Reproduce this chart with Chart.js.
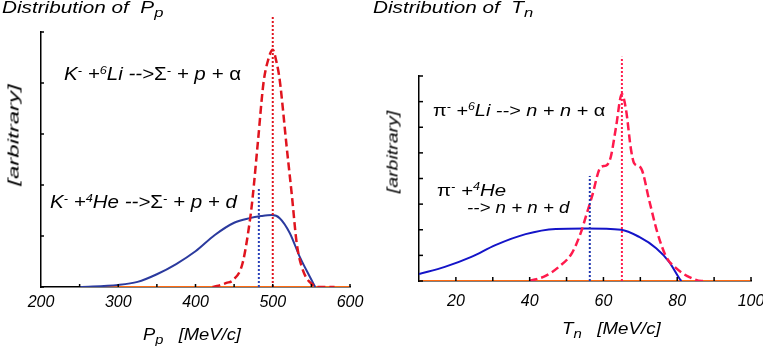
<!DOCTYPE html>
<html>
<head>
<meta charset="utf-8">
<script src="https://cdn.jsdelivr.net/npm/chart.js@4.4.1/dist/chart.umd.min.js"></script>
<style>
    body { margin: 0; background: #fff; }
    #wrap { position: relative; width: 763px; height: 346px; overflow: hidden; }
    .panel { position: absolute; top: 0; height: 346px; }
    .t { position: absolute; font-family: "Liberation Sans", Arial, sans-serif; font-style: italic; line-height: 1; white-space: nowrap; color: #000; transform-origin: left top; }
    .g { font-style: normal; }
    .t sup { font-size: 0.62em; vertical-align: 0.55em; }
    .t sub { font-size: 0.8em; vertical-align: -0.3em; }
    .rot { transform-origin: center center; }
</style>
</head>
<body>
<div id="wrap">
    <div class="panel" style="left:0;width:380px"><canvas id="pp-chart"></canvas></div>
    <div class="panel" style="left:380px;width:383px"><canvas id="tn-chart"></canvas></div>

    <span class="t" style="left:2px;top:-1px;font-size:17px;transform:scaleX(1.22)">Distribution of&nbsp; P<sub>p</sub></span>
    <span class="t" style="left:373px;top:-1px;font-size:17px;transform:scaleX(1.22)">Distribution of&nbsp; T<sub>n</sub></span>

    <span class="t" style="left:64px;top:65px;font-size:18px;transform:scaleX(1.14)">K<sup>-</sup> +<sup>6</sup>Li --&gt;<span class="g">Σ</span><sup>-</sup> + p + <span class="g">α</span></span>
    <span class="t" style="left:50px;top:193px;font-size:18px;transform:scaleX(1.14)">K<sup>-</sup> +<sup>4</sup>He --&gt;<span class="g">Σ</span><sup>-</sup> + p + d</span>

    <span class="t" style="left:433px;top:101px;font-size:17px;transform:scaleX(1.17)"><span class="g">π</span><sup>-</sup> +<sup>6</sup>Li --&gt; n + n + <span class="g">α</span></span>
    <span class="t" style="left:437px;top:181px;font-size:17px;transform:scaleX(1.2)"><span class="g">π</span><sup>-</sup> +<sup>4</sup>He</span>
    <span class="t" style="left:467px;top:199px;font-size:17px;transform:scaleX(1.1)">--&gt; n + n + d</span>

    <span class="t" style="left:143px;top:326px;font-size:17px;transform:scaleX(1.08)">P<sub>p</sub>&nbsp;&nbsp; [MeV/c]</span>
    <span class="t" style="left:562px;top:320px;font-size:17px;transform:scaleX(1.1)">T<sub>n</sub>&nbsp;&nbsp; [MeV/c]</span>

    <span class="t rot" style="left:13px;top:135px;font-size:15px;transform:translate(-50%,-50%) rotate(-90deg) scaleX(1.6)">[arbitrary]</span>
    <span class="t rot" style="left:392px;top:152px;font-size:15px;transform:translate(-50%,-50%) rotate(-90deg) scaleX(1.3)">[arbitrary]</span>
</div>

<script>
// ---- Distribution of P_p ----
const ppLabelTicks = [200, 300, 400, 500, 600];
const ppMarkTicks = [250, 300, 350, 400, 450, 500, 550, 600];
const ppYTicks = [0, 1, 2, 3, 4, 5];

// K- + 6Li (red dashed)
const ppLiX = [422, 428, 440, 449, 461, 471, 474, 481, 488, 494, 500, 505, 509, 518, 525, 531, 539, 552, 561, 580];
const ppLiY = [0, 0.02, 0.08, 0.14, 0.47, 1.37, 1.76, 2.88, 4.0, 4.45, 4.65, 4.4, 4.06, 2.75, 1.76, 0.86, 0.33, 0.04, 0, 0];

// K- + 4He (blue solid)
const ppHeX = [250, 300, 325, 350, 375, 400, 425, 450, 470, 485, 499, 509, 522, 535, 548, 555];
const ppHeY = [0, 0.04, 0.1, 0.25, 0.45, 0.7, 1.02, 1.26, 1.35, 1.39, 1.41, 1.35, 1.06, 0.59, 0.2, 0];

// mean markers (dotted)
const ppHeMarkX = [482, 482];
const ppHeMarkY = [0, 1.94];
const ppLiMarkX = [500, 500];
const ppLiMarkY = [0, 5.3];

const ppZeroX = [250, 600];
const ppZeroY = [0, 0];

// ---- Distribution of T_n ----
const tnLabelTicks = [20, 40, 60, 80, 100];
const tnMarkTicks = [20, 30, 40, 50, 60, 70, 80, 90, 100];
const tnYTicks = [0, 1, 2, 3, 4, 5, 6, 7, 8];

// pi- + 6Li (red dashed)
const tnLiX = [40, 44.3, 47.9, 51.5, 53.9, 55.2, 56.9, 59.3, 60.7, 62, 63.4, 65, 66.1, 67.5, 68.3, 70.2, 72.4, 74.6, 77, 79.7, 83.3, 86.6, 88];
const tnLiY = [0, 0.2, 0.55, 1.1, 1.9, 2.5, 3.3, 4.45, 4.5, 4.85, 6.0, 7.3, 6.7, 5.1, 4.6, 4.4, 3.15, 1.9, 0.95, 0.5, 0.15, 0, 0];

// pi- + 4He (blue solid)
const tnHeX = [10, 17, 24.2, 30.7, 38.9, 47.1, 55.2, 64.8, 69.7, 74.3, 77.8, 80.6, 81.1];
const tnHeY = [0.27, 0.55, 0.94, 1.4, 1.83, 2.03, 2.05, 2.0, 1.72, 1.28, 0.75, 0.1, 0];

const tnHeMarkX = [56.3, 56.3];
const tnHeMarkY = [0, 4.1];
const tnLiMarkX = [65, 65];
const tnLiMarkY = [0, 8.75];

const tnZeroX = [10, 100];
const tnZeroY = [0, 0];

const FONT = '"Liberation Sans", Arial, sans-serif';

function pts(xs, ys) {
    return xs.map((x, i) => ({ x: x, y: ys[i] }));
}

// tick marks pointing into the plot
const innerTicks = {
    id: 'innerTicks',
    afterDraw(chart, args, opts) {
        const { ctx, chartArea } = chart;
        const xs = chart.scales.x, ys = chart.scales.y;
        ctx.save();
        ctx.strokeStyle = '#000';
        ctx.lineWidth = 1.5;
        opts.xTicks.forEach(v => {
            const px = xs.getPixelForValue(v);
            ctx.beginPath();
            ctx.moveTo(px, chartArea.bottom);
            ctx.lineTo(px, chartArea.bottom - opts.len);
            ctx.stroke();
        });
        opts.yTicks.forEach(v => {
            const py = ys.getPixelForValue(v);
            ctx.beginPath();
            ctx.moveTo(chartArea.left, py);
            ctx.lineTo(chartArea.left + opts.len, py);
            ctx.stroke();
        });
        ctx.restore();
    }
};

function makeChart(id, cfg) {
    const ctx = document.getElementById(id).getContext('2d');
    return new Chart(ctx, {
        type: 'line',
        data: {
            datasets: [
                { data: pts(cfg.liMarkX, cfg.liMarkY), borderColor: cfg.red, borderWidth: 2, borderDash: [2, 2], pointRadius: 0, clip: false, order: 0 },
                { data: pts(cfg.heMarkX, cfg.heMarkY), borderColor: cfg.dot, borderWidth: 2, borderDash: [2, 2], pointRadius: 0, clip: false, order: 1 },
                { data: pts(cfg.liX, cfg.liY), borderColor: cfg.red, borderWidth: 2.5, borderDash: [8, 4], pointRadius: 0, cubicInterpolationMode: 'monotone', order: 2 },
                { data: pts(cfg.heX, cfg.heY), borderColor: cfg.blue, borderWidth: 2, pointRadius: 0, cubicInterpolationMode: 'monotone', order: 3 },
                { data: pts(cfg.zeroX, cfg.zeroY), borderColor: '#ff6a10', borderWidth: 2, pointRadius: 0, order: 4 }
            ]
        },
        options: {
            responsive: true,
            maintainAspectRatio: false,
            animation: false,
            layout: { padding: cfg.padding },
            plugins: {
                legend: { display: false },
                tooltip: { enabled: false },
                innerTicks: { xTicks: cfg.markTicks, yTicks: cfg.yTicks, len: cfg.tickLen }
            },
            scales: {
                x: {
                    type: 'linear',
                    min: cfg.xMin,
                    max: cfg.xMax,
                    afterBuildTicks: (s) => { s.ticks = cfg.labelTicks.map(v => ({ value: v })); },
                    afterFit: (s) => { s.height = cfg.xHeight; s.paddingLeft = 0; s.paddingRight = 0; },
                    grid: { display: false, drawTicks: false },
                    border: { display: true, color: '#000', width: 1.5 },
                    ticks: {
                        autoSkip: false,
                        maxRotation: 0,
                        padding: cfg.labelPad,
                        color: '#000',
                        font: { family: FONT, size: 16, style: 'italic' }
                    }
                },
                y: {
                    min: 0,
                    max: cfg.yMax,
                    afterFit: (s) => { s.width = 0; },
                    grid: { display: false, drawTicks: false },
                    border: { display: true, color: '#000', width: 1.5 },
                    ticks: { display: false }
                }
            }
        },
        plugins: [innerTicks]
    });
}

makeChart('pp-chart', {
    liX: ppLiX, liY: ppLiY, heX: ppHeX, heY: ppHeY,
    liMarkX: ppLiMarkX, liMarkY: ppLiMarkY, heMarkX: ppHeMarkX, heMarkY: ppHeMarkY,
    zeroX: ppZeroX, zeroY: ppZeroY,
    labelTicks: ppLabelTicks, markTicks: ppMarkTicks, yTicks: ppYTicks,
    xMin: 200, xMax: 600, yMax: 5,
    red: '#e0141e', blue: '#2b3a9e', dot: '#2a40b8',
    padding: { left: 41, right: 30, top: 32, bottom: 0 },
    xHeight: 59, labelPad: 6, tickLen: 3
});

makeChart('tn-chart', {
    liX: tnLiX, liY: tnLiY, heX: tnHeX, heY: tnHeY,
    liMarkX: tnLiMarkX, liMarkY: tnLiMarkY, heMarkX: tnHeMarkX, heMarkY: tnHeMarkY,
    zeroX: tnZeroX, zeroY: tnZeroY,
    labelTicks: tnLabelTicks, markTicks: tnMarkTicks, yTicks: tnYTicks,
    xMin: 10, xMax: 100, yMax: 8,
    red: '#ff1a4c', blue: '#1414c8', dot: '#2036b0',
    padding: { left: 39, right: 12, top: 76, bottom: 0 },
    xHeight: 65, labelPad: 11, tickLen: 4
});
</script>
</body>
</html>
